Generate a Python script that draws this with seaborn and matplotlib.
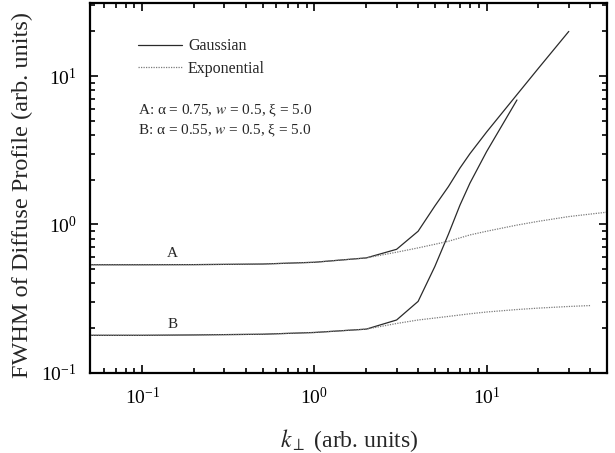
import numpy as np
import pandas as pd
import matplotlib
matplotlib.use("Agg")
import matplotlib.pyplot as plt
import seaborn as sns
from matplotlib.ticker import LogLocator, NullFormatter, LogFormatterMathtext

# FWHM of the diffuse profile vs k_perp for two parameter sets (A, B)
k_gauss_A = [0.05, 0.1, 0.2, 0.5, 1, 2, 3, 4, 5, 6, 7, 8, 10, 15, 20, 30]
fwhm_gauss_A = [0.535, 0.535, 0.536, 0.541, 0.556, 0.595, 0.68, 0.90, 1.33, 1.80,
                2.4, 3.0, 4.2, 7.5, 11.3, 20.0]

k_exp_A = [0.05, 0.1, 0.2, 0.5, 1, 2, 3, 4, 5, 6, 8, 10, 15, 20, 30, 50]
fwhm_exp_A = [0.535, 0.535, 0.536, 0.541, 0.556, 0.595, 0.65, 0.695, 0.735, 0.77,
              0.85, 0.90, 0.99, 1.05, 1.13, 1.21]

k_gauss_B = [0.05, 0.1, 0.2, 0.5, 1, 2, 3, 4, 5, 6, 7, 8, 10, 15]
fwhm_gauss_B = [0.179, 0.179, 0.18, 0.182, 0.187, 0.197, 0.227, 0.303, 0.52, 0.86,
                1.35, 1.9, 3.1, 6.9]

k_exp_B = [0.05, 0.1, 0.2, 0.5, 1, 2, 3, 4, 5, 6, 8, 10, 15, 20, 30, 40]
fwhm_exp_B = [0.179, 0.179, 0.18, 0.182, 0.187, 0.197, 0.215, 0.227, 0.234, 0.24,
              0.25, 0.257, 0.267, 0.273, 0.28, 0.284]

profiles = ["Gaussian", "Exponential"]
curve_labels = ["A", "B"]
curve_params = ["A: \u03b1 = 0.75, $w$ = 0.5, \u03be = 5.0",
                "B: \u03b1 = 0.55, $w$ = 0.5, \u03be = 5.0"]

frames = []
for curve, prof, ks, vs in [("A", "Gaussian", k_gauss_A, fwhm_gauss_A),
                            ("A", "Exponential", k_exp_A, fwhm_exp_A),
                            ("B", "Gaussian", k_gauss_B, fwhm_gauss_B),
                            ("B", "Exponential", k_exp_B, fwhm_exp_B)]:
    frames.append(pd.DataFrame({"k": ks, "fwhm": vs, "profile": prof, "curve": curve}))
df = pd.concat(frames, ignore_index=True)

sns.set_style("ticks")
plt.rcParams["font.family"] = ["Liberation Serif", "DejaVu Serif"]
plt.rcParams["mathtext.fontset"] = "stix"
plt.rcParams["xtick.direction"] = "in"
plt.rcParams["ytick.direction"] = "in"

fig = plt.figure(figsize=(6.15, 4.53), dpi=100)
ax = fig.add_axes([0.147, 0.177, 0.840, 0.816])

sns.lineplot(data=df, x="k", y="fwhm", hue="profile", style="profile",
             units="curve", estimator=None, sort=False,
             hue_order=profiles, style_order=profiles,
             palette={"Gaussian": "#2a2a2a", "Exponential": "#7a7a7a"},
             dashes={"Gaussian": "", "Exponential": (1, 1)},
             linewidth=0.9, ax=ax)

ax.set_xscale("log")
ax.set_yscale("log")
ax.set_xlim(0.05, 50)
ax.set_ylim(0.1, 31)

for axis in (ax.xaxis, ax.yaxis):
    axis.set_major_locator(LogLocator(base=10, numticks=10))
    axis.set_minor_locator(LogLocator(base=10, subs=np.arange(2, 10), numticks=20))
    axis.set_minor_formatter(NullFormatter())
    axis.set_major_formatter(LogFormatterMathtext())

ax.tick_params(which="both", top=True, right=True, direction="in", width=1.2, colors="black")
ax.tick_params(which="major", length=6, labelsize=14, pad=10)
ax.tick_params(which="minor", length=3.8)
for s in ax.spines.values():
    s.set_linewidth(1.6)
    s.set_color("black")

ax.set_xlabel("$k_{\\perp}$ (arb. units)", fontsize=17, labelpad=14)
ax.set_ylabel("FWHM of Diffuse Profile (arb. units)", fontsize=17.5)
ax.yaxis.set_label_coords(-0.112, 0.48)

leg = ax.legend(loc="upper left", bbox_to_anchor=(0.093, 0.905), frameon=False,
                fontsize=11.5, handlelength=2.7, handletextpad=0.4, labelspacing=0.4,
                borderpad=0, borderaxespad=0)
for line in leg.get_lines():
    line.set_linewidth(0.9)

ax.text(0.093, 0.71, curve_params[0], transform=ax.transAxes, fontsize=11, va="center")
ax.text(0.093, 0.655, curve_params[1], transform=ax.transAxes, fontsize=11, va="center")

ax.text(0.15, 0.64, curve_labels[0], fontsize=11, ha="center", va="center")
ax.text(0.15, 0.213, curve_labels[1], fontsize=11, ha="center", va="center")

fig.savefig("out.png", dpi=100)
